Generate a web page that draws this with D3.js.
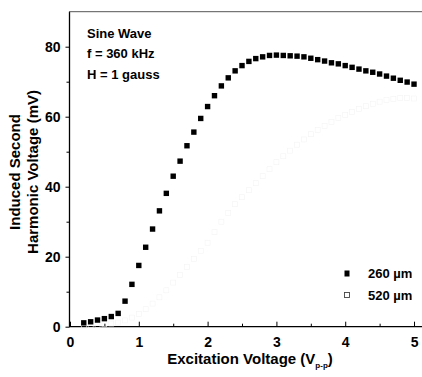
<!DOCTYPE html>
<html>
<head>
<meta charset="utf-8">
<script src="https://cdn.jsdelivr.net/npm/d3@7"></script>
<style>
  body { margin: 0; background: #fff; }
  svg { display: block; font-family: "Liberation Sans", Arial, sans-serif; font-weight: bold; }
</style>
</head>
<body>
<div id="chart"></div>
<script>
// excitation voltage (V p-p)
var volts = [0.2,0.3,0.4,0.5,0.6,0.7,0.8,0.9,1.0,1.1,1.2,1.3,1.4,1.5,1.6,1.7,1.8,1.9,2.0,
             2.1,2.2,2.3,2.4,2.5,2.6,2.7,2.8,2.9,3.0,3.1,3.2,3.3,3.4,3.5,3.6,3.7,3.8,3.9,4.0,
             4.1,4.2,4.3,4.4,4.5,4.6,4.7,4.8,4.9,5.0];
// induced second harmonic voltage (mV)
var s260 = [1.1,1.4,1.9,2.3,2.9,3.8,7.3,12.1,17.5,22.7,27.9,33.1,38.1,43.0,47.3,51.7,55.6,59.5,62.9,
            66.0,68.8,71.1,73.1,74.6,75.8,76.6,77.1,77.5,77.6,77.5,77.4,77.3,77.1,76.7,76.3,75.9,75.4,75.1,74.6,
            74.1,73.6,73.1,72.7,72.2,71.6,71.0,70.4,69.9,69.3];
var s520 = [0.3,0.4,0.5,0.7,0.9,1.2,1.8,2.6,3.6,5.0,6.6,8.4,10.4,12.6,14.8,17.1,19.4,21.7,24.0,
            27.0,30.0,32.5,35.0,37.0,39.0,41.0,43.0,45.0,47.0,48.7,50.3,52.0,53.5,55.0,56.2,57.4,58.5,59.6,60.5,
            61.4,62.2,63.0,63.7,64.3,64.8,65.1,65.3,65.3,65.2];
var xTicks = [0,1,2,3,4,5];
var yTicks = [0,20,40,60,80];
var infoLines = ["Sine Wave", "f = 360 kHz", "H = 1 gauss"];
var legendLabels = ["260 \u00b5m", "520 \u00b5m"];

var width = 422, height = 377;
var svg = d3.select("#chart").append("svg")
            .attr("width", width)
            .attr("height", height);

var x = d3.scaleLinear().domain([0, 5.116]).range([70, 422]);
var y = d3.scaleLinear().domain([0, 90]).range([326.7, 11.7]);

// frame: left, bottom, top
svg.append("line").attr("x1", 69.5).attr("x2", 69.5).attr("y1", y(90)).attr("y2", y(0))
   .attr("stroke", "#000").attr("stroke-width", 1.3);
svg.append("line").attr("x1", 69).attr("x2", 422).attr("y1", y(0)).attr("y2", y(0))
   .attr("stroke", "#000").attr("stroke-width", 1.3);
svg.append("line").attr("x1", 69).attr("x2", 422).attr("y1", y(90)).attr("y2", y(90))
   .attr("stroke", "#555").attr("stroke-width", 1);

// y axis
var yAxis = d3.axisLeft(y).tickValues(yTicks).tickSize(4).tickPadding(5).tickFormat(d3.format("d"));
var gy = svg.append("g").attr("transform", "translate(69.5,0)").call(yAxis);
gy.select(".domain").remove();
gy.selectAll("text").attr("font-size", 14).attr("font-family", "Liberation Sans, Arial")
  .attr("font-weight", "bold");
svg.append("g").attr("transform", "translate(69.5,0)")
   .call(d3.axisLeft(y).tickValues([10,30,50,70]).tickSize(3).tickFormat(""))
   .select(".domain").remove();

// x axis, ticks pointing in
var xAxis = d3.axisBottom(x).tickValues(xTicks).tickSize(-5).tickPadding(10).tickFormat(d3.format("d"));
var gx = svg.append("g").attr("transform", "translate(0," + y(0) + ")").call(xAxis);
gx.select(".domain").remove();
gx.selectAll("text").attr("font-size", 14).attr("font-family", "Liberation Sans, Arial")
  .attr("font-weight", "bold");
svg.append("g").attr("transform", "translate(0," + y(0) + ")")
   .call(d3.axisBottom(x).tickValues([0.5,1.5,2.5,3.5,4.5]).tickSize(-3).tickFormat(""))
   .select(".domain").remove();

// axis titles
var xt = svg.append("text").attr("x", 250).attr("y", 364).attr("text-anchor", "middle")
            .attr("font-size", 15);
xt.append("tspan").text("Excitation Voltage (V");
xt.append("tspan").attr("font-size", 8).attr("dy", 4).text("p-p");
xt.append("tspan").attr("dy", -4).text(")");

var yt = svg.append("text").attr("transform", "translate(20,172) rotate(-90)")
            .attr("text-anchor", "middle").attr("font-size", 15);
yt.append("tspan").attr("x", 0).attr("dy", 0).text("Induced Second");
yt.append("tspan").attr("x", 0).attr("dy", 18).text("Harmonic Voltage (mV)");

// info text
svg.selectAll(".info").data(infoLines).enter().append("text")
   .attr("class", "info")
   .attr("x", 87).attr("y", function (d, i) { return 37.5 + i * 20.5; })
   .attr("font-size", 13)
   .text(function (d) { return d; });

// 520 um series: very faint open squares (nearly lost in the scan)
svg.selectAll(".p520").data(volts).enter().append("rect")
   .attr("class", "p520")
   .attr("x", function (d) { return x(d) - 2.5; })
   .attr("y", function (d, i) { return y(s520[i]) - 2.5; })
   .attr("width", 5).attr("height", 5)
   .attr("fill", "none").attr("stroke", "#f4f4f4").attr("stroke-width", 0.6);

// 260 um series: filled squares
svg.selectAll(".p260").data(volts).enter().append("rect")
   .attr("class", "p260")
   .attr("x", function (d) { return x(d) - 2.7; })
   .attr("y", function (d, i) { return y(s260[i]) - 2.7; })
   .attr("width", 5.4).attr("height", 5.4)
   .attr("fill", "#000");

// legend
var leg = svg.append("g");
leg.append("rect").attr("x", 344.5).attr("y", 270.5).attr("width", 5).attr("height", 6).attr("fill", "#000");
leg.append("rect").attr("x", 344.5).attr("y", 292.5).attr("width", 5).attr("height", 5)
   .attr("fill", "none").attr("stroke", "#444").attr("stroke-width", 0.9);
leg.selectAll(".lt").data(legendLabels).enter().append("text")
   .attr("class", "lt")
   .attr("x", 368).attr("y", function (d, i) { return 278 + i * 21.5; })
   .attr("font-size", 13)
   .text(function (d) { return d; });
</script>
</body>
</html>
